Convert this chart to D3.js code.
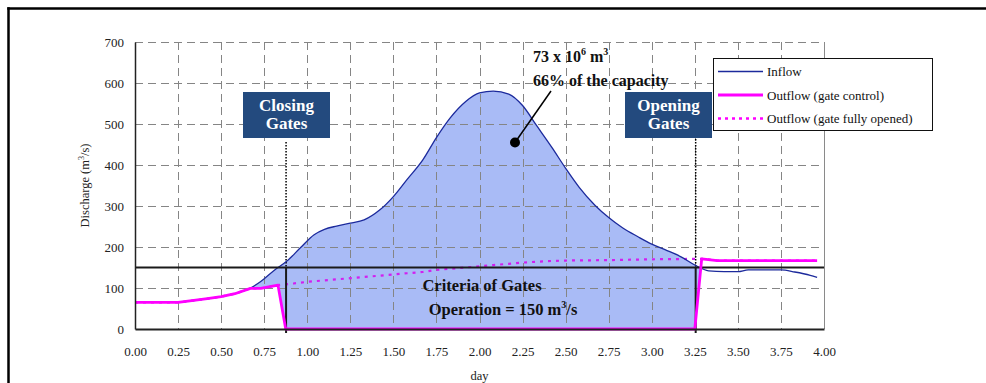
<!DOCTYPE html>
<html>
<head>
<meta charset="utf-8">
<script src="https://cdn.jsdelivr.net/npm/d3@7"></script>
<style>
  html, body { margin: 0; padding: 0; background: #fff; overflow: hidden; }
  svg { display: block; }
  svg text { font-family: "Liberation Serif", "Times New Roman", serif; }
</style>
</head>
<body>
<svg id="chart" width="986" height="383"></svg>
<script>
// Flood hydrograph through the gated structure
const inflowDay = [0, 0.25, 0.33, 0.5, 0.58, 0.67, 0.73, 0.82, 0.88, 0.96, 1.04, 1.1, 1.17, 1.25, 1.33, 1.42,
  1.5, 1.58, 1.67, 1.75, 1.83, 1.92, 2.0, 2.08, 2.17, 2.25, 2.33, 2.42, 2.5, 2.58, 2.67, 2.75, 2.83, 2.92,
  3.0, 3.08, 3.17, 3.25, 3.33, 3.42, 3.5, 3.56, 3.67, 3.75, 3.83, 3.92, 3.96];
const inflowQ = [65, 65, 69, 79, 86, 100, 116, 147, 165, 198, 230, 243, 251, 258, 266, 290,
  323, 365, 412, 467, 515, 555, 576, 580, 573, 545, 497, 443, 392, 345, 302, 272, 247, 225,
  207, 193, 176, 156, 142, 140, 140, 144, 144, 144, 139, 131, 126];

const gateDay = [0, 0.25, 0.33, 0.42, 0.5, 0.58, 0.67, 0.73, 0.83, 0.875, 3.25, 3.29, 3.38, 3.96];
const gateQ = [65, 65, 69, 74, 79, 86, 99, 99, 107, 0, 0, 171, 167, 167];

const openDay = [0, 0.25, 0.33, 0.42, 0.5, 0.58, 0.67, 0.73, 0.83, 0.92, 1.0, 1.08, 1.17, 1.25, 1.33, 1.42,
  1.5, 1.58, 1.67, 1.75, 1.83, 1.92, 2.0, 2.08, 2.17, 2.25, 2.33, 2.42, 2.5, 2.75, 3.0, 3.25, 3.3, 3.38, 3.96];
const openQ = [65, 65, 69, 74, 79, 86, 99, 99, 107, 111, 115, 118, 121, 124, 127, 130,
  133, 136, 139, 144, 147, 150, 153, 156, 159, 162, 164, 166, 167, 168, 170, 171, 171, 167, 167];

const xTicks = d3.range(0, 4.001, 0.25);
const yTicks = [0, 100, 200, 300, 400, 500, 600, 700];
const closeDay = 0.877;
const openGateDay = 3.255;
const criteriaQ = 150;

const SERIF = '"Liberation Serif", "Times New Roman", serif';
const svg = d3.select("#chart");
const L = 135, R = 824, T = 42, B = 329;
const x = d3.scaleLinear().domain([0, 4]).range([L, R]);
const y = d3.scaleLinear().domain([0, 700]).range([B, T]);

// outer frame: left and top edges
svg.append("line").attr("x1", 8.5).attr("x2", 8.5).attr("y1", 7.3).attr("y2", 383)
  .attr("stroke", "#000").attr("stroke-width", 2.5);
svg.append("line").attr("x1", 7.3).attr("x2", 986).attr("y1", 8.5).attr("y2", 8.5)
  .attr("stroke", "#000").attr("stroke-width", 2.5);

// stored volume: area under inflow, above the gate-controlled outflow
const clip = svg.append("defs").append("clipPath").attr("id", "aboveOutflow");
clip.append("path").attr("d",
  d3.area().x(d => x(d[0])).y0(T - 5).y1(d => y(d[1])).curve(d3.curveLinear)(d3.zip(gateDay, gateQ)));

const inflowPts = d3.zip(inflowDay, inflowQ);
svg.append("path")
  .attr("clip-path", "url(#aboveOutflow)")
  .attr("d", d3.area().x(d => x(d[0])).y0(y(0)).y1(d => y(d[1])).curve(d3.curveMonotoneX)(inflowPts))
  .attr("fill", "#a9bbf6");

// grid
const grid = svg.append("g").attr("stroke", "#858585").attr("stroke-width", 1).attr("stroke-dasharray", "8,5");
grid.selectAll("line.h").data(yTicks.filter(v => v > 0)).join("line").attr("class", "h")
  .attr("x1", L).attr("x2", R).attr("y1", d => Math.round(y(d)) + 0.5).attr("y2", d => Math.round(y(d)) + 0.5);
grid.selectAll("line.v").data(xTicks.filter(v => v > 0 && v < 4)).join("line").attr("class", "v")
  .attr("x1", d => Math.round(x(d)) + 0.5).attr("x2", d => Math.round(x(d)) + 0.5).attr("y1", T).attr("y2", B);
svg.append("line").attr("x1", R + 0.5).attr("x2", R + 0.5).attr("y1", T).attr("y2", B)
  .attr("stroke", "#8a8a8a").attr("stroke-width", 1);

// gate operation markers
svg.append("line").attr("x1", x(closeDay)).attr("x2", x(closeDay)).attr("y1", 142).attr("y2", y(criteriaQ))
  .attr("stroke", "#000").attr("stroke-width", 1.5).attr("stroke-dasharray", "1.5,1.5");
svg.append("line").attr("x1", x(openGateDay)).attr("x2", x(openGateDay)).attr("y1", 139).attr("y2", y(criteriaQ))
  .attr("stroke", "#000").attr("stroke-width", 1.5).attr("stroke-dasharray", "1.5,1.5");

// outflow with gates fully opened
svg.append("path")
  .attr("d", d3.line().x(d => x(d[0])).y(d => y(d[1]))(d3.zip(openDay, openQ)))
  .attr("fill", "none").attr("stroke", "#d21ff0").attr("stroke-width", 2.2).attr("stroke-dasharray", "3,5");

// inflow
svg.append("path")
  .attr("d", d3.line().x(d => x(d[0])).y(d => y(d[1])).curve(d3.curveMonotoneX)(inflowPts))
  .attr("fill", "none").attr("stroke", "#1c2a9c").attr("stroke-width", 1.3);

// criteria box
svg.append("line").attr("x1", L).attr("x2", R).attr("y1", y(criteriaQ)).attr("y2", y(criteriaQ))
  .attr("stroke", "#1a1a1a").attr("stroke-width", 2);
[closeDay, openGateDay].forEach(d => {
  svg.append("line").attr("x1", x(d)).attr("x2", x(d)).attr("y1", y(criteriaQ)).attr("y2", B + 4)
    .attr("stroke", "#1a1a1a").attr("stroke-width", 2);
});

// outflow under gate control
svg.append("path")
  .attr("d", d3.line().x(d => x(d[0])).y(d => y(d[1]))(d3.zip(gateDay, gateQ)))
  .attr("fill", "none").attr("stroke", "#ff00ff").attr("stroke-width", 2.8).attr("stroke-linejoin", "round");

// axes
const xAxis = d3.axisBottom(x).tickValues(xTicks).tickFormat(d3.format(".2f")).tickSize(0).tickPadding(18);
const gx = svg.append("g").attr("transform", `translate(0,${B})`).call(xAxis);
gx.attr("font-family", null);
gx.select(".domain").attr("stroke", "#222").attr("stroke-width", 1.8);
gx.selectAll("text").style("font-family", SERIF).style("font-size", "13px").attr("fill", "#222");

const yAxis = d3.axisLeft(y).tickValues(yTicks).tickSize(0).tickPadding(11);
const gy = svg.append("g").attr("transform", `translate(${L},0)`).call(yAxis);
gy.attr("font-family", null);
gy.select(".domain").attr("stroke", "#222").attr("stroke-width", 1.5);
gy.selectAll("text").style("font-family", SERIF).style("font-size", "13px").attr("fill", "#222");

// axis titles
const yt = svg.append("text").attr("transform", `translate(89,${(T + B) / 2}) rotate(-90)`)
  .attr("text-anchor", "middle").attr("font-size", 12.5).attr("fill", "#222");
yt.append("tspan").text("Discharge (m");
yt.append("tspan").text("3").attr("font-size", 8).attr("dy", -5);
yt.append("tspan").text("/s)").attr("dy", 5);

svg.append("text").attr("x", (L + R) / 2).attr("y", 380).attr("text-anchor", "middle")
  .attr("font-size", 12.5).attr("fill", "#222").text("day");

// gate boxes
function gateBox(x0, y0, w, h, l1, l2) {
  svg.append("rect").attr("x", x0).attr("y", y0).attr("width", w).attr("height", h).attr("fill", "#234a7e");
  svg.append("text").attr("x", x0 + w / 2).attr("y", y0 + 19).attr("text-anchor", "middle")
    .attr("font-size", 17).attr("font-weight", "bold").attr("fill", "#fff").text(l1);
  svg.append("text").attr("x", x0 + w / 2).attr("y", y0 + 37).attr("text-anchor", "middle")
    .attr("font-size", 17).attr("font-weight", "bold").attr("fill", "#fff").text(l2);
}
gateBox(243, 92, 87, 46, "Closing", "Gates");
gateBox(625, 92, 87, 46, "Opening", "Gates");

// volume annotation
svg.append("line").attr("x1", 515).attr("y1", 142.5).attr("x2", 551).attr("y2", 91)
  .attr("stroke", "#000").attr("stroke-width", 1.5);
svg.append("circle").attr("cx", 515).attr("cy", 142.5).attr("r", 5).attr("fill", "#000");
const v1 = svg.append("text").attr("x", 533).attr("y", 62).attr("font-size", 16).attr("font-weight", "bold").attr("fill", "#111");
v1.append("tspan").text("73 x 10");
v1.append("tspan").text("6").attr("font-size", 10).attr("dy", -7);
v1.append("tspan").text(" m").attr("dy", 7);
v1.append("tspan").text("3").attr("font-size", 10).attr("dy", -7);
svg.append("text").attr("x", 533).attr("y", 86).attr("font-size", 16).attr("font-weight", "bold")
  .attr("fill", "#111").text("66% of the capacity");

// criteria label
svg.append("text").attr("x", 482).attr("y", 291).attr("text-anchor", "middle").attr("font-size", 16.5)
  .attr("font-weight", "bold").attr("fill", "#111").text("Criteria of Gates");
const op = svg.append("text").attr("x", 503).attr("y", 315).attr("text-anchor", "middle").attr("font-size", 16.5)
  .attr("font-weight", "bold").attr("fill", "#111");
op.append("tspan").text("Operation = 150 m");
op.append("tspan").text("3").attr("font-size", 10).attr("dy", -7);
op.append("tspan").text("/s").attr("dy", 7);

// legend
const legendItems = [
  { label: "Inflow", color: "#1c2a9c", width: 1.3, dash: null },
  { label: "Outflow (gate control)", color: "#ff00ff", width: 2.8, dash: null },
  { label: "Outflow (gate fully opened)", color: "#ff00ff", width: 2.5, dash: "3,4" }
];
const lg = svg.append("g").attr("transform", "translate(713,58)");
lg.append("rect").attr("x", 0.5).attr("y", 0.5).attr("width", 219).attr("height", 72)
  .attr("fill", "#fff").attr("stroke", "#111").attr("stroke-width", 1);
legendItems.forEach((it, i) => {
  const cy = 13.5 + i * 23.5;
  lg.append("line").attr("x1", 5).attr("x2", 50).attr("y1", cy).attr("y2", cy)
    .attr("stroke", it.color).attr("stroke-width", it.width).attr("stroke-dasharray", it.dash);
  lg.append("text").attr("x", 54).attr("y", cy + 4.5).attr("font-size", 13).attr("fill", "#111").text(it.label);
});
</script>
</body>
</html>
